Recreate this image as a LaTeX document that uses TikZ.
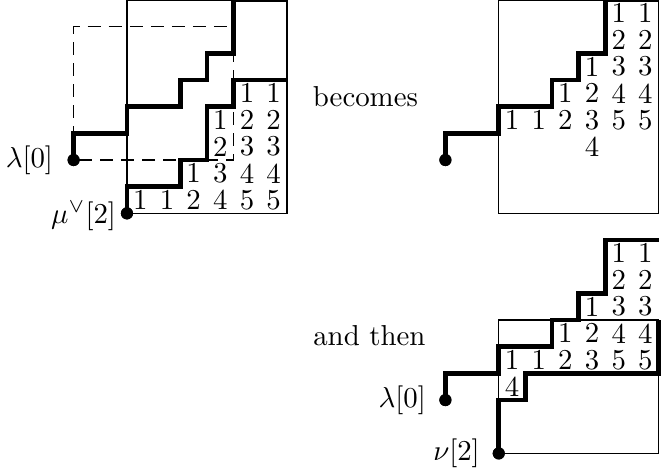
\documentclass[tikz,border=0pt]{standalone}
\newcommand\myrow[4]{%
  \foreach \v [count=\c from #3] in {#4} {\node[num] (#1-#2-\c) at (\c+0.5,#2+0.5) {\v};}}
\begin{document}
\begin{tikzpicture}[x=0.325cm,y=0.325cm,
  thinbox/.style={line width=0.4pt},
  thickpath/.style={line width=1.6pt},
  dashbox/.style={line width=0.4pt, dash pattern=on 4.5pt off 2.8pt},
  dot/.style={circle,fill,inner sep=0pt,minimum size=4.2pt},
  num/.style={inner sep=0pt},
  lbl/.style={inner sep=0pt, anchor=east}]
\useasboundingbox (-4.76,-9.62) rectangle (20.21,8);

% ---------- diagram 1 ----------
\begin{scope}
  \draw[thinbox] (0,0) rectangle (6,8);
  \draw[dashbox] (-2,2) rectangle (4,7);
  \node[dot] (A-lam) at (-2,2) {};
  \node[dot] (A-mu) at (0,0) {};
  \draw[thickpath] (A-lam.center) -- (-2,3) -- (0,3) -- (0,4) -- (2,4) -- (2,5) -- (3,5) -- (3,6) -- (4,6) -- (4,8) -- (6,8);
  \draw[thickpath] (A-mu.center) -- (0,1) -- (2,1) -- (2,2) -- (3,2) -- (3,4) -- (4,4) -- (4,5) -- (6,5);
  \node[dot] at (A-lam.center) {};
  \node[dot] at (A-mu.center) {};
  \node[lbl] (A-lamlbl) at (-2.75,2) {$\lambda[0]$};
  \node[lbl] (A-mulbl) at (-0.39,-0.1) {$\mu^\vee[2]$};
  \myrow{A}{0}{0}{1,1,2,4,5,5}
  \myrow{A}{1}{2}{1,3,4,4}
  \myrow{A}{2}{3}{2,3,3}
  \myrow{A}{3}{3}{1,2,2}
  \myrow{A}{4}{4}{1,1}
\end{scope}

\node[anchor=base] (becomes) at (8.94,4.0) {becomes};

% ---------- diagram 2 ----------
\begin{scope}[shift={(13.94,0)}]
  \draw[thinbox] (0,0) rectangle (6,8);
  \node[dot] (B-lam) at (-2,2) {};
  \draw[thickpath] (B-lam.center) -- (-2,3) -- (0,3) -- (0,4) -- (2,4) -- (2,5) -- (3,5) -- (3,6) -- (4,6) -- (4,8) -- (6,8);
  \node[dot] at (B-lam.center) {};
  \myrow{B}{7}{4}{1,1}
  \myrow{B}{6}{4}{2,2}
  \myrow{B}{5}{3}{1,3,3}
  \myrow{B}{4}{2}{1,2,4,4}
  \myrow{B}{3}{0}{1,1,2,3,5,5}
  \myrow{B}{2}{3}{4}
\end{scope}

\node[anchor=base] (andthen) at (9.09,-4.95) {and then};

% ---------- diagram 3 ----------
\begin{scope}[shift={(13.94,-9)}]
  \draw[thinbox] (0,0) rectangle (6,5);
  \node[dot] (C-lam) at (-2,2) {};
  \node[dot] (C-nu) at (0,0) {};
  \draw[thickpath] (C-lam.center) -- (-2,3) -- (0,3) -- (0,4) -- (2,4) -- (2,5) -- (3,5) -- (3,6) -- (4,6) -- (4,8) -- (6,8);
  \draw[thickpath] (C-nu.center) -- (0,2) -- (1,2) -- (1,3) -- (6,3) -- (6,5);
  \node[dot] at (C-lam.center) {};
  \node[dot] at (C-nu.center) {};
  \node[lbl] (C-lamlbl) at (-2.71,2) {$\lambda[0]$};
  \node[lbl] (C-nulbl) at (-0.69,0) {$\nu[2]$};
  \myrow{C}{7}{4}{1,1}
  \myrow{C}{6}{4}{2,2}
  \myrow{C}{5}{3}{1,3,3}
  \myrow{C}{4}{2}{1,2,4,4}
  \myrow{C}{3}{0}{1,1,2,3,5,5}
  \myrow{C}{2}{0}{4}
\end{scope}
\end{tikzpicture}
\end{document}
